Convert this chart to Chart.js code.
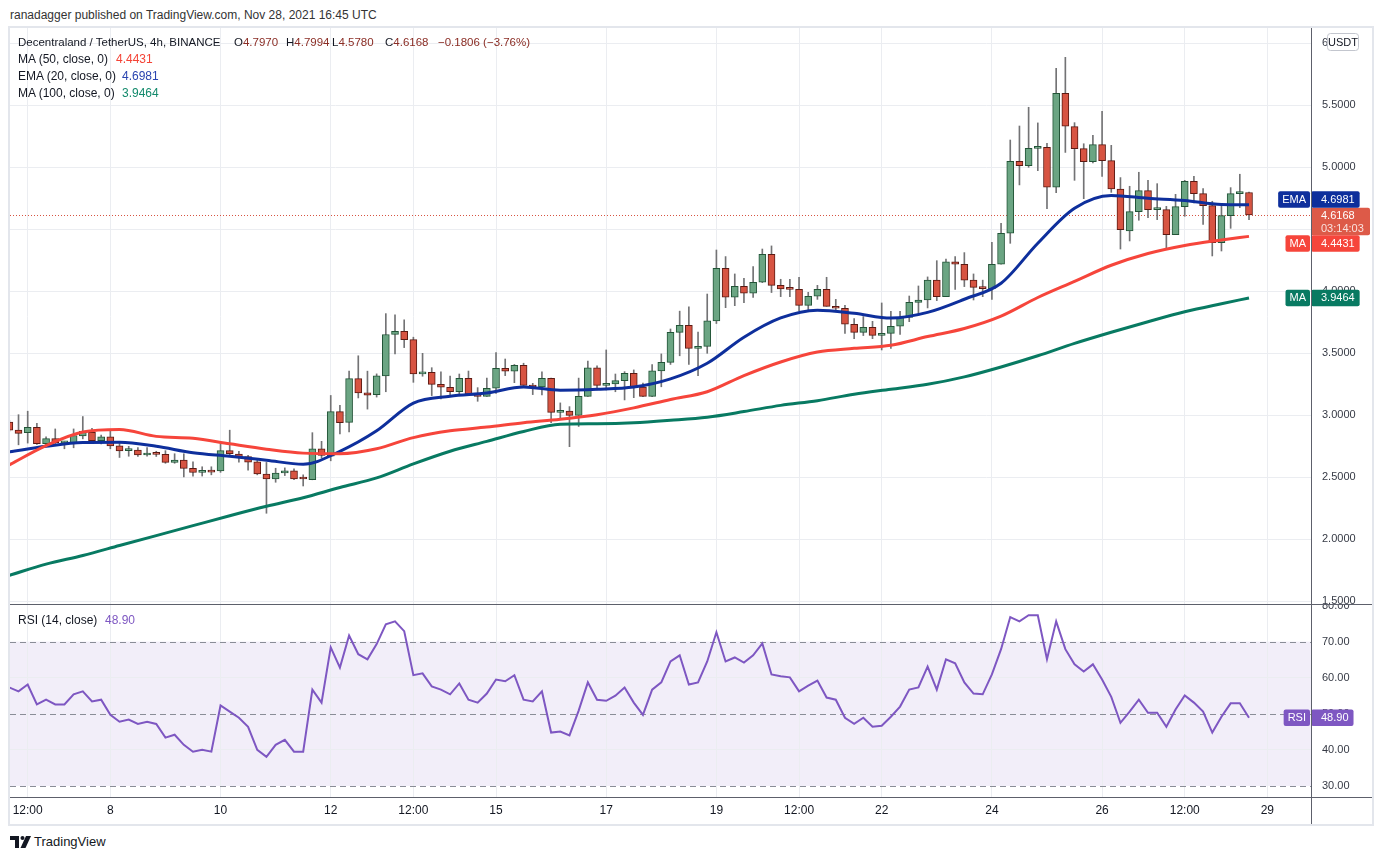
<!DOCTYPE html>
<html>
<head>
<meta charset="utf-8">
<title>Decentraland / TetherUS, 4h, BINANCE</title>
<script src="https://cdn.jsdelivr.net/npm/chart.js@4.4.1/dist/chart.umd.min.js"></script>
<style>
  html,body{margin:0;padding:0;background:#fff;}
  body{width:1383px;height:860px;position:relative;overflow:hidden;font-family:"Liberation Sans",Arial,sans-serif;color:#131722;}
  .t{position:absolute;white-space:nowrap;font-size:12px;line-height:14px;z-index:5;}
  .s{font-size:11.5px;}
  #frame{position:absolute;left:8px;top:26px;width:1362px;height:796px;border:2px solid #e3e6ec;}
  canvas{position:absolute;}
  .ln{position:absolute;background:#5d606b;z-index:4;}
</style>
</head>
<body>
<div id="frame"></div>
<canvas id="main" width="1362" height="577" style="left:10px;top:28px;width:1362px;height:577px"></canvas>
<canvas id="rsi" width="1362" height="219" style="left:10px;top:605px;width:1362px;height:219px"></canvas>

<div class="ln" style="left:10px;top:604px;width:1362px;height:1px"></div>
<div class="ln" style="left:10px;top:797px;width:1362px;height:1px"></div>
<div class="ln" style="left:1311px;top:28px;width:1px;height:796px"></div>

<div class="t" style="left:10px;top:8px;color:#333">ranadagger published on TradingView.com, Nov 28, 2021 16:45 UTC</div>

<div class="t s" style="left:18px;top:35px">Decentraland / TetherUS, 4h, BINANCE</div>
<div class="t s" style="left:234px;top:35px">O<span style="color:#8a2c24">4.7970</span></div>
<div class="t s" style="left:286px;top:35px">H<span style="color:#8a2c24">4.7994</span></div>
<div class="t s" style="left:332px;top:35px">L<span style="color:#8a2c24">4.5780</span></div>
<div class="t s" style="left:385px;top:35px">C<span style="color:#8a2c24">4.6168</span></div>
<div class="t s" style="left:438px;top:35px;color:#8a2c24">−0.1806 (−3.76%)</div>

<div class="t" style="left:18px;top:52px">MA (50, close, 0)</div>
<div class="t" style="left:116px;top:52px;color:#f44336">4.4431</div>
<div class="t" style="left:18px;top:69px">EMA (20, close, 0)</div>
<div class="t" style="left:122px;top:69px;color:#2a44b0">4.6981</div>
<div class="t" style="left:18px;top:86px">MA (100, close, 0)</div>
<div class="t" style="left:122px;top:86px;color:#138a6c">3.9464</div>

<div class="t" style="left:18px;top:613px">RSI (14, close)</div>
<div class="t" style="left:105px;top:613px;color:#7e57c2">48.90</div>

<svg style="position:absolute;left:10px;top:836px" width="22" height="12" viewBox="0 0 22 12">
  <path d="M0 0 H9 V12 H5 V4 H0 Z" fill="#131722"/>
  <circle cx="12.5" cy="2" r="2" fill="#131722"/>
  <path d="M16 0 H21 L15.5 12 H10.5 Z" fill="#131722"/>
</svg>
<div class="t" style="left:34px;top:835px;font-size:13px;color:#131722">TradingView</div>

<script>
// ---------- data ----------
const candleOpen = [
 2.945,2.880,2.859,2.903,2.771,2.812,2.778,2.779,2.834,2.862,
 2.796,2.826,2.754,2.715,2.720,2.680,2.696,2.685,2.620,2.638,
 2.572,2.540,2.547,2.552,2.715,2.688,2.668,2.625,2.527,2.486,
 2.535,2.552,2.490,2.480,2.730,2.670,3.030,2.943,3.296,3.182,
 3.166,3.318,3.652,3.677,3.610,3.334,3.347,3.250,3.226,3.190,
 3.298,3.170,3.153,3.218,3.379,3.355,3.403,3.242,3.228,3.298,
 3.024,3.035,3.000,3.153,3.382,3.242,3.253,3.280,3.339,3.228,
 3.153,3.358,3.427,3.669,3.726,3.540,3.556,3.761,4.185,3.952,
 4.040,3.984,4.073,4.298,4.048,4.024,4.016,3.887,3.960,4.016,
 3.879,3.863,3.734,3.669,3.710,3.645,3.661,3.718,3.790,3.911,
 3.930,4.090,3.957,4.237,4.218,4.091,4.035,4.022,4.218,4.468,
 5.048,5.013,5.153,5.161,4.839,5.597,5.328,5.150,5.046,5.183,
 5.054,4.825,4.486,4.642,4.812,4.659,4.659,4.457,4.683,4.887,
 4.788,4.691,4.392,4.610,4.788,4.797];
const candleHigh = [
 2.960,3.005,3.033,2.936,2.826,2.890,2.790,2.890,2.990,2.895,
 2.840,2.880,2.780,2.750,2.740,2.740,2.710,2.715,2.690,2.690,
 2.624,2.585,2.585,2.770,2.880,2.710,2.677,2.636,2.620,2.573,
 2.576,2.568,2.520,2.860,2.790,3.160,3.080,3.356,3.480,3.356,
 3.334,3.820,3.810,3.770,3.630,3.500,3.384,3.350,3.317,3.333,
 3.357,3.223,3.300,3.505,3.454,3.410,3.420,3.258,3.350,3.300,
 3.100,3.070,3.300,3.438,3.398,3.527,3.333,3.352,3.366,3.260,
 3.410,3.495,3.696,3.840,3.874,3.672,3.978,4.333,4.280,4.140,
 4.105,4.200,4.341,4.366,4.097,4.097,4.113,3.992,4.048,4.113,
 3.935,3.887,3.780,3.796,3.758,3.906,3.839,3.839,3.962,4.043,
 4.116,4.247,4.260,4.280,4.312,4.140,4.090,4.395,4.548,5.220,
 5.333,5.484,5.358,5.194,5.798,5.887,5.360,5.190,5.258,5.452,
 5.177,4.917,4.847,4.960,4.895,4.868,4.685,4.782,4.895,4.927,
 4.828,4.726,4.707,4.836,4.944,4.7994];
const candleLow = [
 2.870,2.762,2.776,2.765,2.757,2.757,2.730,2.738,2.810,2.790,
 2.770,2.730,2.660,2.670,2.668,2.670,2.668,2.613,2.613,2.503,
 2.510,2.510,2.520,2.540,2.677,2.622,2.557,2.520,2.210,2.460,
 2.514,2.480,2.430,2.480,2.655,2.633,2.850,2.867,3.140,3.050,
 3.147,3.190,3.495,3.546,3.266,3.315,3.159,3.132,3.159,3.159,
 3.159,3.113,3.153,3.177,3.320,3.263,3.240,3.167,3.164,2.940,
 2.968,2.747,2.910,3.153,3.204,3.204,3.190,3.124,3.142,3.150,
 3.150,3.230,3.410,3.480,3.410,3.320,3.500,3.740,3.868,3.884,
 3.909,3.950,4.070,3.990,3.957,3.957,3.844,3.852,3.935,3.879,
 3.850,3.661,3.618,3.643,3.618,3.527,3.540,3.653,3.755,3.806,
 3.866,3.925,3.957,4.016,4.038,3.930,3.957,3.935,4.218,4.387,
 4.858,5.000,4.973,4.667,4.796,5.120,4.895,4.747,5.035,4.927,
 4.798,4.341,4.406,4.573,4.594,4.578,4.349,4.457,4.605,4.712,
 4.540,4.285,4.325,4.508,4.675,4.578];
const candleClose = [
 2.880,2.854,2.903,2.771,2.812,2.779,2.785,2.837,2.870,2.796,
 2.826,2.754,2.713,2.724,2.680,2.693,2.685,2.620,2.638,2.572,
 2.539,2.547,2.542,2.715,2.690,2.663,2.622,2.527,2.486,2.535,
 2.552,2.486,2.486,2.730,2.677,3.030,2.940,3.296,3.180,3.163,
 3.318,3.652,3.677,3.610,3.334,3.350,3.250,3.226,3.190,3.298,
 3.170,3.153,3.218,3.379,3.355,3.403,3.242,3.228,3.298,3.024,
 3.035,3.000,3.153,3.382,3.242,3.253,3.280,3.339,3.226,3.153,
 3.358,3.427,3.669,3.726,3.540,3.556,3.761,4.185,3.952,4.040,
 3.984,4.073,4.298,4.048,4.020,4.016,3.887,3.960,4.016,3.879,
 3.863,3.734,3.669,3.710,3.645,3.661,3.718,3.790,3.911,3.930,
 4.090,3.957,4.237,4.218,4.089,4.032,4.022,4.218,4.468,5.048,
 5.013,5.153,5.161,4.839,5.597,5.331,5.150,5.046,5.183,5.054,
 4.825,4.497,4.642,4.812,4.659,4.664,4.457,4.683,4.887,4.788,
 4.691,4.392,4.610,4.788,4.796,4.6168];

// moving averages, read at every 4th candle (candle index)
const lineIdx = [0,4,8,12,16,20,24,28,32,36,40,44,48,52,56,60,64,68,72,76,80,84,88,92,96,100,104,108,112,116,120,124,128,132,135];
const ma50  = [2.60,2.755,2.865,2.885,2.83,2.815,2.77,2.727,2.695,2.69,2.73,2.82,2.875,2.905,2.94,2.968,3.005,3.06,3.127,3.19,3.32,3.43,3.51,3.54,3.565,3.635,3.70,3.80,3.95,4.08,4.21,4.305,4.37,4.414,4.443];
const ema20 = [2.705,2.75,2.78,2.782,2.75,2.698,2.67,2.638,2.605,2.71,2.875,3.098,3.154,3.18,3.229,3.203,3.21,3.228,3.294,3.42,3.63,3.785,3.848,3.823,3.784,3.83,3.936,4.065,4.388,4.67,4.773,4.75,4.732,4.70,4.698];
const ma100 = [1.71,1.80,1.87,1.95,2.03,2.11,2.19,2.266,2.335,2.418,2.495,2.608,2.71,2.79,2.87,2.928,2.932,2.94,2.96,2.985,3.03,3.08,3.118,3.17,3.21,3.25,3.31,3.39,3.48,3.58,3.67,3.755,3.835,3.90,3.946];

const rsi14 = [
 57.3,56.2,58.1,52.6,53.9,52.6,52.6,55.4,56.2,53.4,
 53.9,49.7,47.8,48.4,47.2,47.8,47.2,43.4,44.2,41.4,
 39.5,40.0,39.5,52.3,50.6,48.9,46.4,40.0,38.1,41.4,
 42.8,39.5,39.5,56.7,53.1,68.4,62.8,71.7,66.5,65.1,
 69.3,74.8,75.6,72.9,60.7,61.2,57.6,56.7,55.4,58.4,
 53.9,53.1,55.6,59.5,59.0,60.7,53.9,53.4,56.2,44.8,
 45.1,44.0,50.9,58.7,53.9,53.6,55.0,57.3,53.1,49.7,
 56.7,58.7,64.5,66.2,58.1,58.7,64.5,72.6,64.5,65.6,
 64.2,66.2,69.5,60.9,60.4,60.1,56.2,57.8,59.2,54.5,
 53.9,48.9,47.2,48.9,46.4,46.7,49.2,52.0,56.7,57.3,
 63.1,56.7,65.1,64.0,58.7,55.6,55.4,60.9,67.9,76.8,
 75.6,77.3,77.3,65.1,75.6,67.9,63.7,61.7,63.7,59.5,
 54.7,47.5,50.6,53.9,50.3,50.3,46.4,51.2,55.1,53.1,
 50.6,44.8,49.2,52.9,52.9,48.9];

const timeTickIdx    = [2,11,23,35,44,53,65,77,86,95,107,119,128,137];
const timeTickLabels = ['12:00','8','10','12','12:00','15','17','19','12:00','22','24','26','12:00','29'];
const priceTicks = [1.5,2,2.5,3,3.5,4,4.5,5,5.5,6];
const rsiTicks   = [30,40,50,60,70,80];
const lastMa50 = 4.4431, lastEma20 = 4.6981, lastMa100 = 3.9464, lastRsi = 48.90, lastClose = 4.6168;
const countdown = '03:14:03';

// ---------- styling ----------
Chart.defaults.font.family = '"Liberation Sans", Arial, sans-serif';
Chart.defaults.font.size = 12;
Chart.defaults.color = '#131722';
const FONT = '"Liberation Sans", Arial, sans-serif';
const UP = '#6ba583', DOWN = '#d75442', UP_B = '#225437', DOWN_B = '#5b1a13', WICK = '#737375';
const GRID = '#ebedf1';
const C_EMA = '#0e2f9c', C_MA50 = '#f6453b', C_MA100 = '#087a62', C_RSI = '#7e57c2', C_PRICE = '#dd5a48';
const X_MIN = 0.0725, X_MAX = 141.86;
const Y_MIN = 1.4702, Y_MAX = 6.1234;
const R_MIN = 26.95, R_MAX = 80.14;

const isUp = candleOpen.map((o,i) => candleClose[i] >= o);

function xAxis(showTicks){
  return {
    type:'linear', min:X_MIN, max:X_MAX, offset:false,
    grid:{color:GRID, offset:false, drawTicks:false},
    border:{display:false},
    ticks:{display:showTicks, autoSkip:false, maxRotation:0, minRotation:0, padding:6, color:'#131722', font:{size:12},
      callback:(v)=>{const k = timeTickIdx.indexOf(v); return k >= 0 ? timeTickLabels[k] : '';}},
    afterBuildTicks:(s)=>{ s.ticks = timeTickIdx.map(v=>({value:v})); },
    afterFit:(s)=>{ s.height = showTicks ? 27 : 0; s.paddingLeft = 0; s.paddingRight = 0; }
  };
}

function rr(ctx,x,y,w,h,r){
  ctx.beginPath();
  ctx.moveTo(x+r,y); ctx.arcTo(x+w,y,x+w,y+h,r); ctx.arcTo(x+w,y+h,x,y+h,r);
  ctx.arcTo(x,y+h,x,y,r); ctx.arcTo(x,y,x+w,y,r); ctx.closePath();
}
function badge(ctx, axisX, name, value, yc, color){
  const h = 16.5;
  ctx.font = '11px ' + FONT;
  const nw = ctx.measureText(name).width + 8;
  const vw = ctx.measureText(value).width + 15;
  ctx.fillStyle = color;
  rr(ctx, axisX - 2 - nw, yc - h/2, nw, h, 2); ctx.fill();
  rr(ctx, axisX - 1, yc - h/2, vw, h, 2); ctx.fill();
  ctx.fillStyle = '#fff'; ctx.textBaseline = 'middle';
  ctx.textAlign = 'center'; ctx.fillText(name, axisX - 2 - nw/2, yc + 0.5);
  ctx.textAlign = 'left'; ctx.fillText(value, axisX + 9, yc + 0.5);
}

const mainPlugin = {
  id:'mainDecor',
  beforeDatasetsDraw(chart){
    const {ctx, chartArea:a, scales:{y}} = chart;
    const py = Math.round(y.getPixelForValue(lastClose)) + 0.5;
    ctx.save();
    ctx.strokeStyle = DOWN; ctx.lineWidth = 1; ctx.setLineDash([1,2]);
    ctx.beginPath(); ctx.moveTo(a.left, py); ctx.lineTo(a.right, py); ctx.stroke();
    ctx.restore();
  },
  afterDraw(chart){
    const {ctx, chartArea:a, scales:{y}} = chart;
    const ax = a.right;
    ctx.save();
    // price label
    const py = y.getPixelForValue(lastClose);
    const pTop = py - 7, pBot = py + 20.5;
    ctx.fillStyle = C_PRICE;
    rr(ctx, ax - 1, pTop, 59, pBot - pTop, 2); ctx.fill();
    ctx.font = '11px ' + FONT; ctx.textBaseline = 'middle'; ctx.textAlign = 'left';
    ctx.fillStyle = '#fff'; ctx.fillText(lastClose.toFixed(4), ax + 9, py + 1.5);
    ctx.fillStyle = 'rgba(255,255,255,0.82)'; ctx.fillText(countdown, ax + 9, py + 14);
    // EMA (pushed above the price label if they overlap)
    let ye = y.getPixelForValue(lastEma20);
    if (ye + 8.25 > pTop) ye = pTop - 8.25;
    badge(ctx, ax, 'EMA', lastEma20.toFixed(4), ye, C_EMA);
    // MA 50 (pushed below the price label if they overlap)
    let ym = y.getPixelForValue(lastMa50);
    if (ym - 8.25 < pBot) ym = pBot + 8.25;
    badge(ctx, ax, 'MA', lastMa50.toFixed(4), ym, C_MA50);
    // MA 100
    badge(ctx, ax, 'MA', lastMa100.toFixed(4), y.getPixelForValue(lastMa100), C_MA100);
    // currency box
    ctx.fillStyle = '#fff'; ctx.strokeStyle = '#c3c6ce'; ctx.lineWidth = 1;
    rr(ctx, ax + 15.5, 5.5, 31, 17, 3); ctx.fill(); ctx.stroke();
    ctx.fillStyle = '#131722'; ctx.font = '11px ' + FONT; ctx.textAlign = 'center';
    ctx.fillText('USDT', ax + 31, 14.5);
    ctx.restore();
  }
};

const rsiPlugin = {
  id:'rsiDecor',
  beforeDraw(chart){
    const {ctx, chartArea:a, scales:{y}} = chart;
    const y70 = y.getPixelForValue(70), y30 = y.getPixelForValue(30);
    ctx.save();
    ctx.fillStyle = 'rgba(126,87,194,0.1)';
    ctx.fillRect(a.left, y70, a.right - a.left, y30 - y70);
    ctx.restore();
  },
  beforeDatasetsDraw(chart){
    const {ctx, chartArea:a, scales:{y}} = chart;
    ctx.save();
    ctx.strokeStyle = '#8a8d97'; ctx.lineWidth = 1; ctx.setLineDash([6,4]);
    [70,50,30].forEach(v=>{
      const py = Math.round(y.getPixelForValue(v)) + 0.5;
      ctx.beginPath(); ctx.moveTo(a.left, py); ctx.lineTo(a.right, py); ctx.stroke();
    });
    ctx.restore();
  },
  afterDraw(chart){
    const {ctx, chartArea:a, scales:{y}} = chart;
    ctx.save();
    badge(ctx, a.right, 'RSI', lastRsi.toFixed(2), y.getPixelForValue(lastRsi), C_RSI);
    ctx.restore();
  }
};

// ---------- main price pane ----------
new Chart(document.getElementById('main'), {
  type:'bar',
  data:{
    datasets:[
      {type:'line', label:'MA 100', data:lineIdx.map((x,k)=>({x, y:ma100[k]})), borderColor:C_MA100, borderWidth:3, pointRadius:0, cubicInterpolationMode:'monotone', order:0},
      {type:'line', label:'MA 50', data:lineIdx.map((x,k)=>({x, y:ma50[k]})), borderColor:C_MA50, borderWidth:3, pointRadius:0, cubicInterpolationMode:'monotone', order:0},
      {type:'line', label:'EMA 20', data:lineIdx.map((x,k)=>({x, y:ema20[k]})), borderColor:C_EMA, borderWidth:3, pointRadius:0, cubicInterpolationMode:'monotone', order:0},
      {type:'bar', label:'body', grouped:false, order:1,
       data:candleOpen.map((o,i)=>({x:i, y:[o, candleClose[i]]})),
       backgroundColor:isUp.map(u=>u?UP:DOWN), borderColor:isUp.map(u=>u?UP_B:DOWN_B),
       borderWidth:1, borderSkipped:false, barThickness:7, maxBarThickness:7, minBarLength:2},
      {type:'bar', label:'wick', grouped:false, order:2,
       data:candleHigh.map((h,i)=>({x:i, y:[candleLow[i], h]})),
       backgroundColor:WICK, borderWidth:0, barThickness:1, maxBarThickness:1}
    ]
  },
  options:{
    responsive:false, animation:false, events:[],
    layout:{padding:0},
    plugins:{legend:{display:false}, tooltip:{enabled:false}},
    scales:{
      x: xAxis(false),
      y:{position:'right', min:Y_MIN, max:Y_MAX,
        grid:{color:GRID, drawTicks:false}, border:{display:false},
        ticks:{padding:10, color:'#363a45', font:{size:11}, callback:v=>Number(v).toFixed(4)},
        afterBuildTicks:s=>{ s.ticks = priceTicks.map(v=>({value:v})); },
        afterFit:s=>{ s.width = 60; s.paddingTop = 0; s.paddingBottom = 0; }}
    }
  },
  plugins:[mainPlugin]
});

// ---------- RSI pane ----------
new Chart(document.getElementById('rsi'), {
  type:'line',
  data:{datasets:[{label:'RSI', data:rsi14.map((v,i)=>({x:i, y:v})), borderColor:C_RSI, borderWidth:2, pointRadius:0, tension:0}]},
  options:{
    responsive:false, animation:false, events:[],
    layout:{padding:0},
    plugins:{legend:{display:false}, tooltip:{enabled:false}},
    scales:{
      x: xAxis(true),
      y:{position:'right', min:R_MIN, max:R_MAX,
        grid:{drawTicks:false, color:(c)=> (c.tick && (c.tick.value===40 || c.tick.value===60)) ? GRID : 'rgba(0,0,0,0)'},
        border:{display:false},
        ticks:{padding:10, color:'#363a45', font:{size:11}, callback:v=>Number(v).toFixed(2)},
        afterBuildTicks:s=>{ s.ticks = rsiTicks.map(v=>({value:v})); },
        afterFit:s=>{ s.width = 60; s.paddingTop = 0; s.paddingBottom = 0; }}
    }
  },
  plugins:[rsiPlugin]
});
</script>
</body>
</html>
